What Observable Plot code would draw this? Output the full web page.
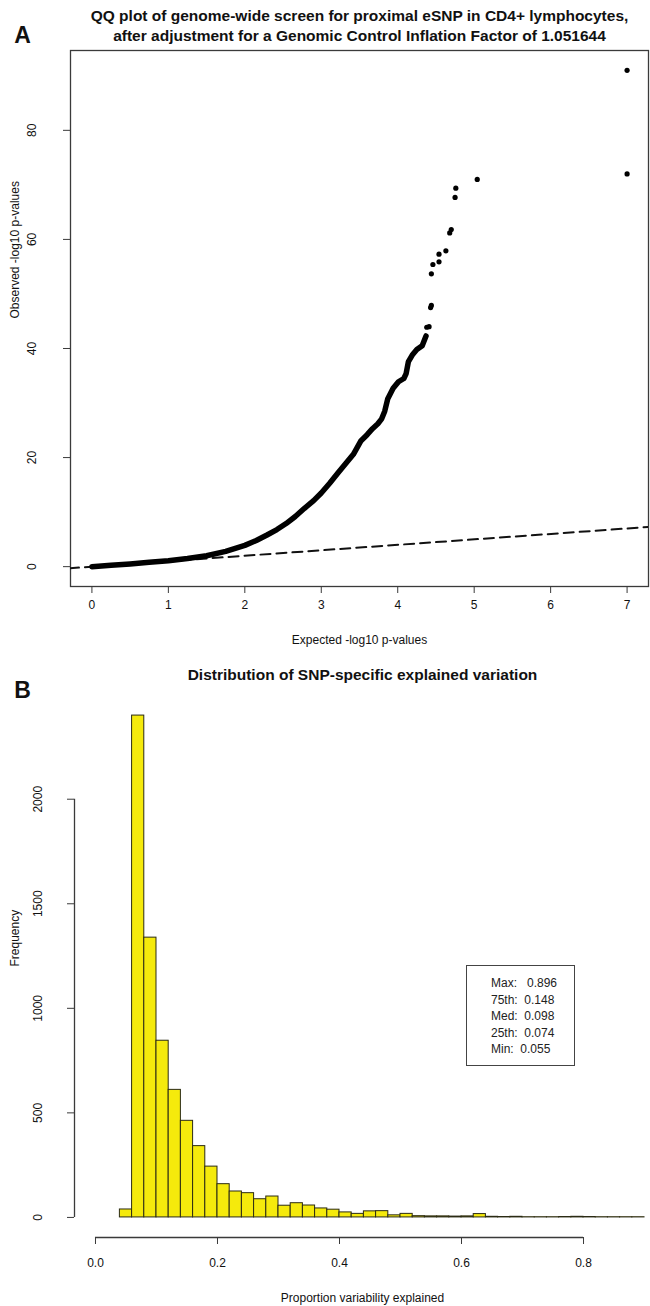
<!DOCTYPE html>
<html>
<head>
<meta charset="utf-8">
<script src="https://cdn.jsdelivr.net/npm/d3@7"></script>
<script src="https://cdn.jsdelivr.net/npm/@observablehq/plot@0.6"></script>
<style>
  body { margin: 0; background: #fff; }
  #wrap { position: relative; width: 650px; height: 1306px; overflow: hidden; font-family: "Liberation Sans", Arial, sans-serif; }
  #wrap svg { display: block; }
  #legend { position: absolute; left: 466px; top: 965px; width: 109px; height: 101px; border: 1.5px solid #444;
            padding: 9px 0 0 24px; box-sizing: border-box;
            font-size: 12px; line-height: 16.5px; color: #222; white-space: pre; background: #fff; }
</style>
</head>
<body>
<div id="wrap"></div>
<script>
// ---------- Panel A: QQ plot data ----------
const titleA = "QQ plot of genome-wide screen for proximal eSNP in CD4+ lymphocytes,\nafter adjustment for a Genomic Control Inflation Factor of 1.051644";
const xLabelA = "Expected -log10 p-values";
const yLabelA = "Observed -log10 p-values";
const xTicksA = [0, 1, 2, 3, 4, 5, 6, 7];
const yTicksA = [0, 20, 40, 60, 80];
// dense part of the QQ curve (expected, observed)
const qqCurveX = [0, 0.25, 0.5, 0.75, 1, 1.25, 1.5, 1.75, 2, 2.15, 2.29, 2.42, 2.54, 2.66, 2.78, 2.9, 3.0, 3.11, 3.22, 3.32, 3.42, 3.52, 3.6, 3.67, 3.74, 3.79, 3.83, 3.87, 3.94, 4.01, 4.08, 4.11, 4.14, 4.19, 4.25, 4.32, 4.37];
const qqCurveY = [0, 0.25, 0.5, 0.8, 1.1, 1.5, 2.0, 2.8, 3.9, 4.8, 5.8, 6.8, 7.9, 9.2, 10.7, 12.1, 13.5, 15.3, 17.2, 18.9, 20.6, 23.1, 24.2, 25.3, 26.2, 27.1, 28.5, 30.8, 32.7, 33.9, 34.5, 35.4, 37.6, 38.8, 39.8, 40.5, 42.3];
// sparse upper-tail points
const qqDotsX = [4.38, 4.41, 4.43, 4.44, 4.44, 4.46, 4.54, 4.54, 4.63, 4.68, 4.70, 4.75, 4.76, 5.04, 7.0, 7.0];
const qqDotsY = [43.9, 44.0, 47.5, 47.9, 53.7, 55.4, 55.9, 57.3, 57.9, 61.2, 61.8, 67.7, 69.4, 71.0, 72.0, 91.0];
// identity reference line y = x
const refLineX = [-0.3, 7.3];

// ---------- Panel B: histogram data ----------
const titleB = "Distribution of SNP-specific explained variation";
const xLabelB = "Proportion variability explained";
const yLabelB = "Frequency";
const binStart = [0.04, 0.06, 0.08, 0.10, 0.12, 0.14, 0.16, 0.18, 0.20, 0.22, 0.24, 0.26, 0.28, 0.30, 0.32, 0.34, 0.36, 0.38, 0.40, 0.42, 0.44, 0.46, 0.48, 0.50, 0.52, 0.54, 0.56, 0.58, 0.60, 0.62, 0.64, 0.66, 0.68, 0.70, 0.72, 0.74, 0.76, 0.78, 0.80, 0.82, 0.84, 0.86, 0.88];
const binCounts = [38, 2400, 1338, 845, 610, 462, 341, 243, 159, 124, 116, 87, 100, 56, 68, 57, 43, 37, 24, 17, 29, 30, 10, 17, 6, 5, 5, 4, 5, 16, 3, 2, 3, 1, 1, 1, 2, 3, 2, 1, 1, 1, 1];
const binWidth = 0.02;
const xTicksB = [0, 0.2, 0.4, 0.6, 0.8];
const yTicksB = [0, 500, 1000, 1500, 2000];
const statLabels = ["Max:", "75th:", "Med:", "25th:", "Min:"];
const statValues = ["0.896", "0.148", "0.098", "0.074", "0.055"];

const FONT = "'Liberation Sans', Arial, Helvetica, sans-serif";
const INK = "#111";
const AXIS = "#3a3a3a";

// ---------- Build Panel A ----------
const qqCurve = qqCurveX.map((x, i) => ({x, y: qqCurveY[i]}));
const qqDots = qqDotsX.map((x, i) => ({x, y: qqDotsY[i]}));
const xDomA = [-0.28, 7.28];
const yDomA = [-3.64, 94.64];

const plotA = Plot.plot({
  width: 650, height: 660,
  marginLeft: 70, marginRight: 2, marginTop: 50, marginBottom: 74,
  x: {domain: xDomA},
  y: {domain: yDomA},
  style: {fontFamily: FONT, fontSize: "12px", color: INK, background: "transparent", overflow: "visible"},
  marks: [
    Plot.frame({stroke: AXIS, strokeWidth: 1.3}),
    Plot.axisX(xTicksA, {tickSize: 7, tickPadding: 7, label: null, stroke: AXIS, fontSize: 12, fill: INK}),
    Plot.axisY(yTicksA, {tickSize: 7, tickPadding: 28, tickRotate: -90, label: null, stroke: AXIS, fontSize: 12, fill: INK, tickFormat: d => String(d)}),
    Plot.line(refLineX, {x: d => d, y: d => d, stroke: "#111", strokeWidth: 2, strokeDasharray: "10,6", clip: true}),
    Plot.line(qqCurve, {x: "x", y: "y", stroke: "#000", strokeWidth: 5.5, strokeLinecap: "round", strokeLinejoin: "round"}),
    Plot.dot(qqDots, {x: "x", y: "y", r: 2.6, fill: "#000", stroke: null}),
    Plot.text([titleA], {frameAnchor: "top", dy: -26, lineAnchor: "middle", fontWeight: "bold", fontSize: 15.5, lineHeight: 1.29, fill: INK}),
    Plot.text(["A"], {frameAnchor: "top-left", dx: -48, dy: -15, lineAnchor: "middle", fontWeight: "bold", fontSize: 23, textAnchor: "middle", fill: INK}),
    Plot.text([xLabelA], {frameAnchor: "bottom", dy: 54, lineAnchor: "middle", fontSize: 12, fill: INK}),
    Plot.text([yLabelA], {frameAnchor: "left", dx: -55, rotate: -90, fontSize: 12, fill: INK})
  ]
});

// ---------- Build Panel B ----------
const hist = binStart.map((x1, i) => ({x1, x2: x1 + binWidth, count: binCounts[i]}));
const xDomB = [-0.0344, 0.9098];
const yMaxB = d3.max(binCounts);
const yDomB = [-0.04 * yMaxB, 1.04 * yMaxB];

const plotB = Plot.plot({
  width: 650, height: 646,
  marginLeft: 74, marginRight: 0, marginTop: 35, marginBottom: 69,
  x: {domain: xDomB},
  y: {domain: yDomB},
  style: {fontFamily: FONT, fontSize: "12px", color: INK, background: "transparent", overflow: "visible"},
  marks: [
    Plot.rectY(hist, {x1: "x1", x2: "x2", y: "count", fill: "#f5ea0c", stroke: "#2b2b14", strokeWidth: 1}),
    Plot.ruleY([yDomB[0]], {x1: xTicksB[0], x2: xTicksB[xTicksB.length - 1], stroke: AXIS, strokeWidth: 1.3}),
    Plot.ruleX([xDomB[0]], {y1: yTicksB[0], y2: yTicksB[yTicksB.length - 1], stroke: AXIS, strokeWidth: 1.3}),
    Plot.axisX(xTicksB, {tickSize: 7, tickPadding: 14, label: null, tickFormat: d3.format(".1f"), stroke: AXIS, fontSize: 12, fill: INK}),
    Plot.axisY(yTicksB, {tickSize: 7, tickPadding: 26, tickRotate: -90, label: null, stroke: AXIS, fontSize: 12, fill: INK, tickFormat: d => String(d)}),
    Plot.text([titleB], {frameAnchor: "top", dy: -20, lineAnchor: "middle", fontWeight: "bold", fontSize: 15.5, fill: INK}),
    Plot.text(["B"], {frameAnchor: "top-left", dx: -52, dy: -5, lineAnchor: "middle", fontWeight: "bold", fontSize: 23, textAnchor: "middle", fill: INK}),
    Plot.text([xLabelB], {frameAnchor: "bottom", dy: 61, lineAnchor: "middle", fontSize: 12, fill: INK}),
    Plot.text([yLabelB], {frameAnchor: "left", dx: -59, rotate: -90, fontSize: 12, fill: INK})
  ]
});

const wrap = document.getElementById("wrap");
wrap.appendChild(plotA);
wrap.appendChild(plotB);

const legend = document.createElement("div");
legend.id = "legend";
legend.textContent = statLabels.map((l, i) => (l === "Max:" ? l + "   " : l + "  ") + statValues[i]).join("\n");
wrap.appendChild(legend);
</script>
</body>
</html>
